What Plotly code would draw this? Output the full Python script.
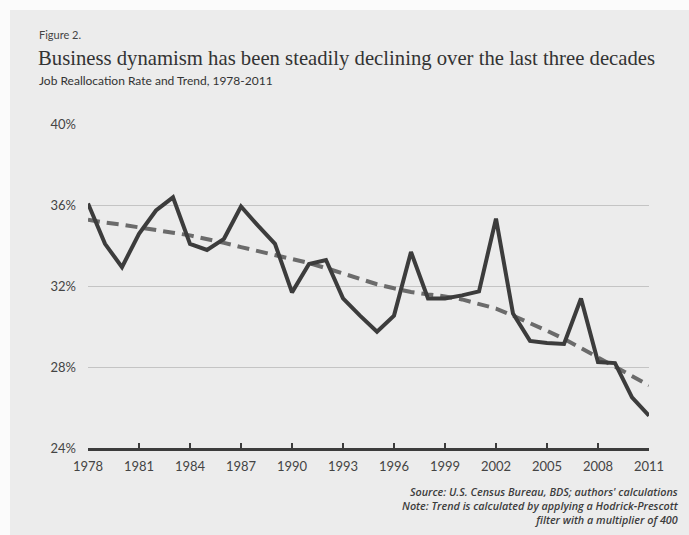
import plotly.graph_objects as go

years = list(range(1978, 2012))
realloc_rate = [36.1, 34.1, 32.95, 34.6, 35.75, 36.4, 34.1, 33.8, 34.35, 35.95,
                35.0, 34.1, 31.7, 33.1, 33.3, 31.4, 30.55, 29.75, 30.55, 33.7,
                31.4, 31.4, 31.55, 31.75, 35.35, 30.65, 29.3, 29.2, 29.15, 31.4,
                28.25, 28.2, 26.5, 25.6]
trend = [35.3, 35.15, 35.05, 34.93, 34.8, 34.65, 34.52, 34.35, 34.15, 33.94,
         33.75, 33.55, 33.37, 33.15, 32.9, 32.63, 32.35, 32.1, 31.9, 31.72,
         31.6, 31.5, 31.35, 31.15, 30.9, 30.55, 30.2, 29.8, 29.4, 28.95,
         28.5, 28.05, 27.55, 27.1]
x_ticks = list(range(1978, 2012, 3))
y_ticks = [24, 28, 32, 36, 40]
y_tick_labels = ["24%", "28%", "32%", "36%", "40%"]
note_lines = ["Source: U.S. Census Bureau, BDS; authors' calculations",
              "Note: Trend is calculated by applying a Hodrick-Prescott",
              "filter with a multiplier of 400"]

fig = go.Figure()
fig.add_trace(go.Scatter(x=years, y=trend, mode="lines",
                         line=dict(color="#6b6b6b", width=4, dash="12px,7px"),
                         name="Trend", showlegend=False))
fig.add_trace(go.Scatter(x=years, y=realloc_rate, mode="lines",
                         line=dict(color="#3c3c3c", width=4),
                         name="Job Reallocation Rate", showlegend=False))

L, R, T, B = 88, 40, 124, 87
W, H = 689, 535
pw, ph = W - L - R, H - T - B

def px(x):
    return (x - L) / pw

def py(y):
    return (H - B - y) / ph

note_font = dict(family="Open Sans, sans-serif", size=10.8, color="#3c3c3c",
                 style="italic", weight=600)

fig.update_layout(
    width=W, height=H,
    margin=dict(l=L, r=R, t=T, b=B, pad=0),
    paper_bgcolor="#ececec", plot_bgcolor="#ececec",
    font=dict(family="Lato, sans-serif", color="#444444"),
    xaxis=dict(range=[1978, 2011], tickvals=x_ticks, showgrid=False,
               zeroline=False, showline=True, linecolor="#3c3c3c", linewidth=3,
               ticks="inside", ticklen=5, tickwidth=2, tickcolor="#3c3c3c",
               tickfont=dict(size=13, color="#444444"), ticklabelstandoff=4),
    yaxis=dict(range=[24, 40.03], tickvals=y_ticks, ticktext=y_tick_labels,
               showgrid=True, gridcolor="#c4c4c4", gridwidth=1,
               zeroline=False, showline=False, ticks="",
               tickfont=dict(size=13, color="#444444"), ticklabelstandoff=11),
    shapes=[
        dict(type="rect", xref="paper", yref="paper", x0=px(0), x1=px(W),
             y0=py(10), y1=py(0), fillcolor="#fbfbfb", line=dict(width=0), layer="below"),
        dict(type="rect", xref="paper", yref="paper", x0=px(0), x1=px(10),
             y0=py(H), y1=py(0), fillcolor="#fbfbfb", line=dict(width=0), layer="below"),
    ],
    annotations=[
        dict(text="Figure 2.", xref="paper", yref="paper", x=px(37), y=py(35),
             xanchor="left", yanchor="middle", showarrow=False,
             font=dict(family="Lato, sans-serif", size=11, color="#444444")),
        dict(text="Business dynamism has been steadily declining over the last three decades",
             xref="paper", yref="paper", x=px(36), y=py(58),
             xanchor="left", yanchor="middle", showarrow=False,
             font=dict(family="Liberation Serif, serif", size=20.7, color="#333333")),
        dict(text="Job Reallocation Rate and Trend, 1978-2011",
             xref="paper", yref="paper", x=px(37), y=py(80),
             xanchor="left", yanchor="middle", showarrow=False,
             font=dict(family="Lato, sans-serif", size=12, color="#333333")),
        dict(text="<br>".join(note_lines),
             xref="paper", yref="paper", x=px(681), y=py(506),
             xanchor="right", yanchor="middle", align="right",
             showarrow=False, font=note_font),
    ],
)

fig.write_html("out.html")
